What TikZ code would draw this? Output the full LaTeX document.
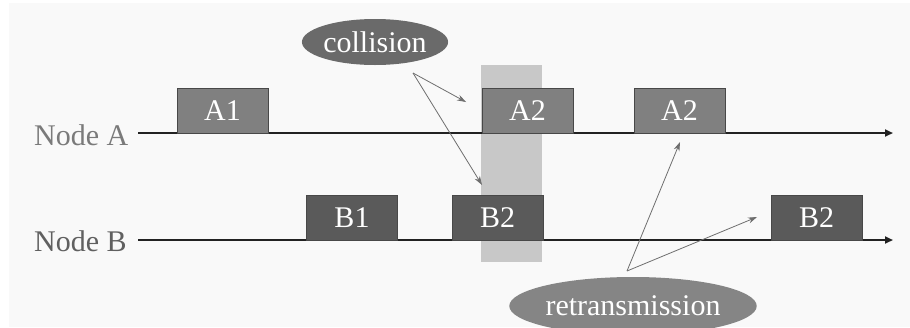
\documentclass[tikz,border=0pt]{standalone}
\usepackage{fontspec}
\setmainfont{Liberation Serif}
\usetikzlibrary{arrows.meta,shapes.geometric}
\definecolor{bgpanel}{HTML}{F9F9F9}
\definecolor{framecol}{HTML}{C8C8C8}
\definecolor{pktA}{HTML}{808080}
\definecolor{pktB}{HTML}{5A5A5A}
\definecolor{pktedge}{HTML}{484848}
\definecolor{axiscol}{HTML}{222222}
\definecolor{labA}{HTML}{7A7A7A}
\definecolor{labB}{HTML}{606060}
\definecolor{pointer}{HTML}{6E6E6E}
\definecolor{collfill}{HTML}{6A6A6A}
\definecolor{retxfill}{HTML}{858585}
\tikzset{
  bigtext/.style={font=\fontsize{30}{36}\selectfont},
  packet/.style={bigtext, rectangle, draw=pktedge, line width=0.8pt, text=white,
                 minimum width=91pt, minimum height=45pt, inner sep=0pt},
  pktAbox/.style={packet, fill=pktA},
  pktBbox/.style={packet, fill=pktB},
  timeline/.style={axiscol, line width=2pt, -{Triangle[length=8pt,width=7pt]}},
  callout/.style={bigtext, ellipse, text=white, inner sep=0pt},
  pointarrow/.style={pointer, line width=0.8pt, -{Stealth[length=9pt,width=6pt]}},
  rowlabel/.style={bigtext, anchor=base west, inner sep=0pt},
}
\begin{document}
\begin{tikzpicture}[x=1pt,y=-1pt]
  % page and background
  \useasboundingbox (0,0) rectangle (910,327);
  \clip (0,0) rectangle (910,327);
  \fill[white] (0,0) rectangle (910,327);
  \fill[bgpanel] (9,3) rectangle (910,327);

  % collision window
  \fill[framecol] (481,65) rectangle (542,262);

  % time lines
  \coordinate (aS) at (138,133);
  \coordinate (aE) at (893,133);
  \coordinate (bS) at (138,240);
  \coordinate (bE) at (893,240);
  \draw[timeline] (aS) -- (aE);
  \draw[timeline] (bS) -- (bE);

  % row labels
  \node[rowlabel, text=labA] (nodeA) at (34,145) {Node A};
  \node[rowlabel, text=labB] (nodeB) at (34,251) {Node B};

  % packets of node A
  \node[pktAbox] (a1)  at (222.5,110.5) {A1};
  \node[pktAbox] (a2)  at (527.5,110.5) {A2};
  \node[pktAbox] (a2r) at (679.5,110.5) {A2};

  % packets of node B
  \node[pktBbox] (b1)  at (352,217.5) {B1};
  \node[pktBbox] (b2)  at (497.5,217.5) {B2};
  \node[pktBbox] (b2r) at (816.5,217.5) {B2};

  % callouts
  \node[callout, fill=collfill, minimum width=136pt, minimum height=46pt] (coll) at (375,42) {collision};
  \node[callout, fill=retxfill, minimum width=214pt, minimum height=58pt] (retx) at (633,306) {retransmission};

  % collision pointers
  \coordinate (cfork) at (413,73);
  \coordinate (cA) at (466,102);
  \coordinate (cB) at (482,185);
  \draw[pointarrow] (cfork) -- (cA);
  \draw[pointarrow] (cfork) -- (cB);

  % retransmission pointers
  \coordinate (rfork) at (627,271);
  \coordinate (rA) at (680,142);
  \coordinate (rB) at (757,217);
  \draw[pointarrow] (rfork) -- (rA);
  \draw[pointarrow] (rfork) -- (rB);
\end{tikzpicture}
\end{document}
